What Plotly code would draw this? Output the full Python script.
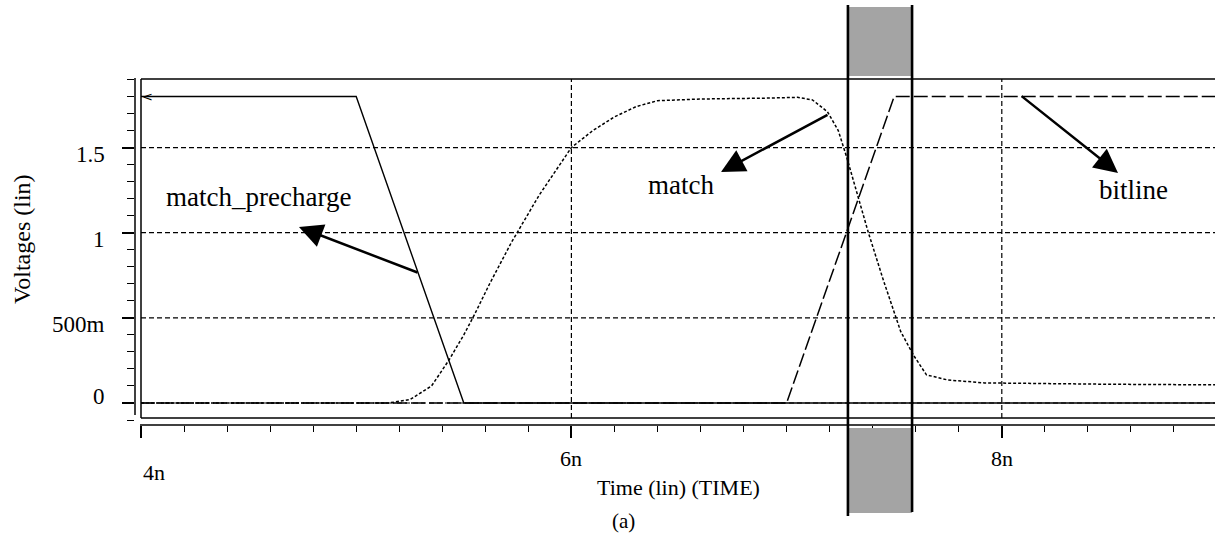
import plotly.graph_objects as go

# ---------------- data ----------------
precharge_t = [4.0, 5.0, 5.5, 9.2]          # ns
precharge_v = [1.8, 1.8, 0.0, 0.0]          # V

match_t = [4.0, 5.15, 5.25, 5.35, 5.43, 5.5, 5.55, 5.62, 5.72, 5.85, 6.0, 6.1, 6.2,
           6.3, 6.4, 6.6, 6.9, 7.05, 7.12, 7.19, 7.24, 7.28, 7.33, 7.38, 7.45, 7.53,
           7.59, 7.65, 7.75, 7.92, 8.5, 9.2]
match_v = [0.0, 0.0, 0.02, 0.1, 0.25, 0.4, 0.52, 0.7, 0.94, 1.22, 1.5, 1.6, 1.68,
           1.74, 1.775, 1.785, 1.79, 1.795, 1.78, 1.71, 1.6, 1.44, 1.22, 1.0, 0.72, 0.42,
           0.28, 0.165, 0.135, 0.118, 0.11, 0.105]

bitline_t = [4.0, 7.0, 7.5, 9.2]
bitline_v = [0.0, 0.0, 1.8, 1.8]

cursor_t = [7.285, 7.583]

y_major = [0, 0.5, 1.0, 1.5]
y_tick_labels = ["0", "500m", "1", "1.5"]
x_major = [4, 6, 8]
x_tick_labels = ["4n", "6n", "8n"]

labels = ["match_precharge", "match", "bitline"]
label_pos = [(4.544, 1.21), (6.509, 1.28), (8.614, 1.251)]
arrow_tail = [(5.292, 0.763), (7.197, 1.697), (8.085, 1.809)]
arrow_tip = [(4.734, 1.033), (6.695, 1.356), (8.540, 1.351)]

# ---------------- layout geometry ----------------
W, H = 1215, 542
ML, MR, MT, MB = 135, 0, 79, 117
PW = W - ML - MR
PH = H - MT - MB
X_RANGE = [3.9721, 8.9907]
Y_RANGE = [-0.1292, 1.9025]


def px(xp):
    return (xp - ML) / PW


def py(yp):
    return (H - MB - yp) / PH


SERIF = "Liberation Serif"
fig = go.Figure()

fig.add_trace(go.Scatter(x=bitline_t, y=bitline_v, mode="lines", name="bitline",
                         line=dict(color="black", width=1.5, dash="14px,4px")))
fig.add_trace(go.Scatter(x=match_t, y=match_v, mode="lines", name="match",
                         line=dict(color="black", width=1.5, dash="3px,2px")))
fig.add_trace(go.Scatter(x=precharge_t, y=precharge_v, mode="lines", name="match_precharge",
                         line=dict(color="black", width=1.4)))

shapes = []
# grid (dashed)
for v in y_major:
    shapes.append(dict(type="line", xref="x", yref="y", x0=4, x1=9.2, y0=v, y1=v,
                       line=dict(color="black", width=1.2, dash="5px,3px"), layer="below"))
for t in x_major[1:]:
    shapes.append(dict(type="line", xref="x", yref="paper", x0=t, x1=t, y0=py(418), y1=py(79),
                       line=dict(color="black", width=1.2, dash="5px,3px"), layer="below"))
# plot frame
shapes.append(dict(type="line", xref="paper", yref="paper", x0=px(141), x1=px(141), y0=py(418), y1=py(79),
                   line=dict(color="black", width=1.5)))
shapes.append(dict(type="line", xref="paper", yref="paper", x0=px(141), x1=1.01, y0=py(79), y1=py(79),
                   line=dict(color="black", width=1.5)))
shapes.append(dict(type="line", xref="paper", yref="paper", x0=px(141), x1=1.01, y0=py(418), y1=py(418),
                   line=dict(color="black", width=1.5)))
# outer axis lines
shapes.append(dict(type="line", xref="paper", yref="paper", x0=px(135), x1=px(135), y0=py(415), y1=py(78),
                   line=dict(color="black", width=1.5)))
shapes.append(dict(type="line", xref="paper", yref="paper", x0=px(140), x1=1.01, y0=py(425), y1=py(425),
                   line=dict(color="black", width=1.5)))
# cursor boxes and lines
shapes.append(dict(type="rect", xref="x", yref="paper", x0=cursor_t[0], x1=cursor_t[1],
                   y0=py(76), y1=py(7), fillcolor="#a4a4a4", line=dict(width=0)))
shapes.append(dict(type="rect", xref="x", yref="paper", x0=cursor_t[0], x1=cursor_t[1],
                   y0=py(513), y1=py(428), fillcolor="#a4a4a4", line=dict(width=0)))
shapes.append(dict(type="line", xref="x", yref="paper", x0=cursor_t[0], x1=cursor_t[0],
                   y0=py(516), y1=py(5), line=dict(color="black", width=2.6)))
shapes.append(dict(type="line", xref="x", yref="paper", x0=cursor_t[1], x1=cursor_t[1],
                   y0=py(512), y1=py(5), line=dict(color="black", width=2.6)))

annotations = []
for (tt, tv), (ht, hv) in zip(arrow_tip, arrow_tail):
    annotations.append(dict(x=tt, y=tv, ax=ht, ay=hv, xref="x", yref="y", axref="x", ayref="y",
                            text="", showarrow=True, arrowhead=2, arrowsize=1.9,
                            arrowwidth=2.5, arrowcolor="black", standoff=0, startstandoff=0))
for lab, (lt, lv) in zip(labels, label_pos):
    annotations.append(dict(x=lt, y=lv, xref="x", yref="y", text=lab, showarrow=False,
                            xanchor="center", yanchor="middle",
                            font=dict(family=SERIF, size=27, color="black")))
# y tick labels (zero label sits above its tick, the others just below)
for v, lab in zip(y_major, y_tick_labels):
    annotations.append(dict(x=px(107), y=v, xref="paper", yref="y", text=lab, showarrow=False,
                            xanchor="right", yanchor="middle", yshift=7 if v == 0 else -7,
                            font=dict(family=SERIF, size=23, color="black")))
# x tick labels
for i, (t, lab) in enumerate(zip(x_major, x_tick_labels)):
    first = i == 0
    annotations.append(dict(x=t, y=py(472) if first else py(458), xref="x", yref="paper",
                            text=lab, showarrow=False, xanchor="left" if first else "center",
                            yanchor="middle", font=dict(family=SERIF, size=22, color="black")))
annotations.append(dict(x=px(678), y=py(487), xref="paper", yref="paper", text="Time (lin) (TIME)",
                        showarrow=False, xanchor="center", yanchor="middle",
                        font=dict(family=SERIF, size=22, color="black")))
annotations.append(dict(x=px(623), y=py(521), xref="paper", yref="paper", text="(a)",
                        showarrow=False, xanchor="center", yanchor="middle",
                        font=dict(family=SERIF, size=21, color="black")))
annotations.append(dict(x=px(22), y=py(239), xref="paper", yref="paper", text="Voltages (lin)",
                        textangle=-90, showarrow=False, xanchor="center", yanchor="middle",
                        font=dict(family=SERIF, size=24, color="black")))
annotations.append(dict(x=4, y=1.8, xref="x", yref="y", text="<", showarrow=False, xanchor="left",
                        yanchor="middle", xshift=-1,
                        font=dict(family="DejaVu Sans", size=13, color="black")))

fig.update_layout(
    width=W, height=H,
    margin=dict(l=ML, r=MR, t=MT, b=MB, pad=0),
    paper_bgcolor="white", plot_bgcolor="white",
    showlegend=False,
    shapes=shapes, annotations=annotations,
    xaxis=dict(range=X_RANGE, showgrid=False, zeroline=False, showline=False,
               tickvals=x_major, showticklabels=False, ticks="outside", ticklen=12,
               tickwidth=1.5, tickcolor="black",
               minor=dict(tick0=4, dtick=0.2, ticks="outside", ticklen=6, tickwidth=1.2,
                          tickcolor="black", showgrid=False)),
    yaxis=dict(range=Y_RANGE, showgrid=False, zeroline=False, showline=False,
               tickvals=y_major, showticklabels=False, ticks="outside", ticklen=12,
               tickwidth=1.5, tickcolor="black",
               minor=dict(tick0=0, dtick=0.1, ticks="outside", ticklen=7, tickwidth=1.2,
                          tickcolor="black", showgrid=False)),
)

fig.write_html("out.html")
